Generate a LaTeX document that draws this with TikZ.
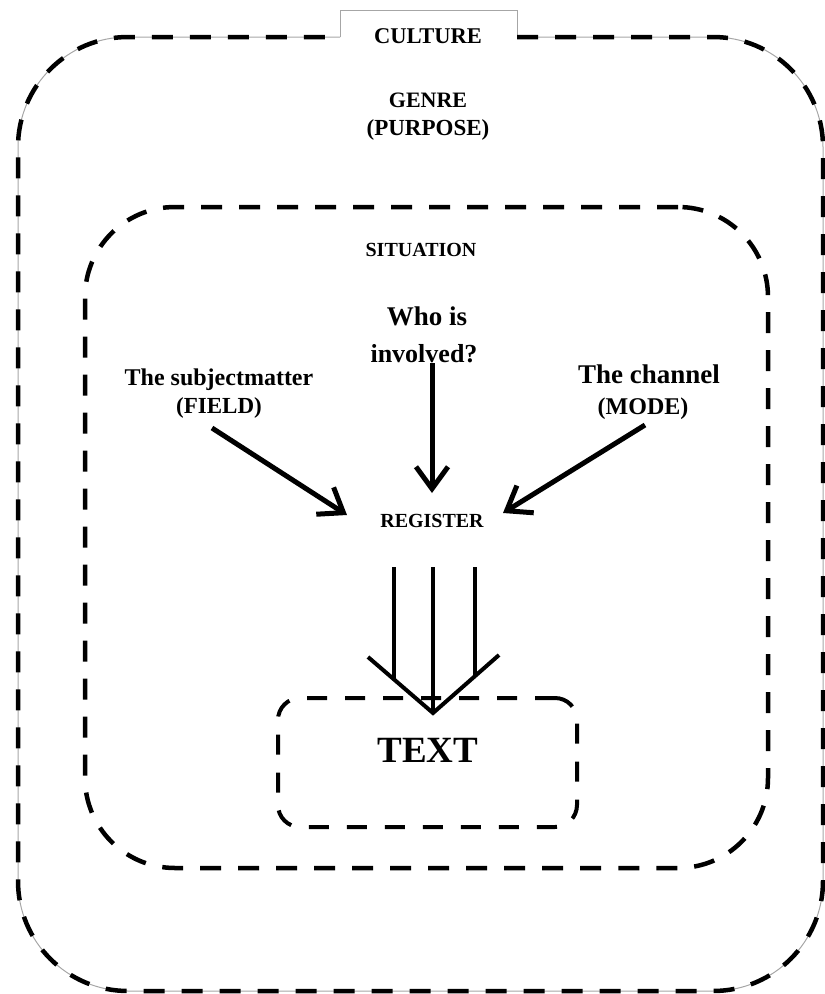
\documentclass[tikz,border=0pt]{standalone}
\usepackage{fontspec}
\setmainfont{Liberation Serif}
\usetikzlibrary{arrows.meta}
\newcommand\setfs[1]{\fontsize{#1}{#1}\selectfont}
\begin{document}
\begin{tikzpicture}[x=1pt,y=-1pt,
  lbl/.style={font=\bfseries, anchor=base, inner sep=0pt},
  dashline/.style={line width=4.5pt, dash pattern=on 21pt off 17pt},
  flow/.style={line width=5pt, -{Straight Barb[length=22pt,width=32pt,line width=5pt]}},
  stem/.style={line width=4pt},
  guide/.style={line width=1pt, draw=black!35}
]
\useasboundingbox (0,0) rectangle (825,994);

% outer culture frame: thin guide line, tab, and dashes
\draw[guide] (340,37) -- (340,10) -- (517,10) -- (517,37);
\draw[guide, rounded corners=110pt] (517,37) -- (823,37) -- (823,991) -- (18,991) -- (18,37) -- (340,37);
\draw[dashline, rounded corners=110pt] (517,37) -- (823,37) -- (823,991) -- (18,991) -- (18,37) -- (340,37);

% situation frame
\node[draw, dashline, rounded corners=90pt, minimum width=683pt, minimum height=661pt, inner sep=0pt]
  (situationbox) at (426.5,537.5) {};

% text frame
\node[draw, line width=4pt, dash pattern=on 20pt off 18pt, rounded corners=22pt,
  minimum width=299pt, minimum height=129pt, inner sep=0pt]
  (textbox) at (427.5,762.5) {};

% labels
\node[lbl] (culture) at (428,43) {\setfs{22.5}CULTURE};
\node[lbl] (genre) at (428,107) {\setfs{22}GENRE};
\node[lbl] (purpose) at (428,135) {\setfs{23}(PURPOSE)};
\node[lbl] (situation) at (421,256) {\setfs{20}SITUATION};
\node[lbl] (who1) at (427,325) {\setfs{27}Who is};
\node[lbl] (who2) at (424,362) {\setfs{26}involved?};
\node[lbl] (field1) at (219,385) {\setfs{24}The subjectmatter};
\node[lbl] (field2) at (219,413) {\setfs{23}(FIELD)};
\node[lbl] (mode1) at (649,383) {\setfs{27}The channel};
\node[lbl] (mode2) at (643,414) {\setfs{24}(MODE)};
\node[lbl] (register) at (432,527) {\setfs{20}REGISTER};
\node[lbl] (text) at (428,762) {\setfs{37}TEXT};

% arrow ends
\coordinate (fieldout) at (212,428);
\coordinate (whoout) at (432,363);
\coordinate (modeout) at (645,425);
\coordinate (regleft) at (347,515);
\coordinate (regtop) at (432,493);
\coordinate (regright) at (503,513);

\draw[flow] (fieldout) -- (regleft);
\draw[flow] (whoout) -- (regtop);
\draw[flow] (modeout) -- (regright);

% triple stem from register into the text frame
\coordinate (stemL) at (394,567);
\coordinate (stemC) at (433,567);
\coordinate (stemR) at (475,567);
\coordinate (tip) at (433,713);
\coordinate (barbL) at (368,657);
\coordinate (barbR) at (499,655);
\draw[stem] (stemL) -- (394,679);
\draw[stem] (stemR) -- (475,676);
\draw[stem] (stemC) -- (tip);
\draw[stem, line join=miter] (barbL) -- (tip) -- (barbR);
\end{tikzpicture}
\end{document}
